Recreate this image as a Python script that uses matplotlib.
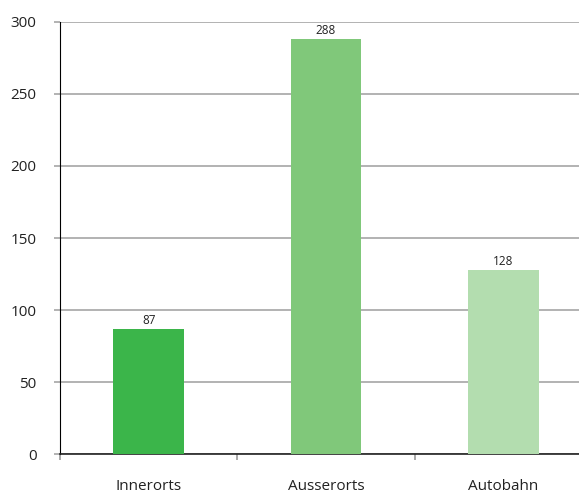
import numpy as np
import matplotlib.pyplot as plt

kategorien = ["Innerorts", "Ausserorts", "Autobahn"]
werte = [87, 288, 128]
farben = ["#3BB54A", "#80C87A", "#B3DDAF"]
y_ticks = [0, 50, 100, 150, 200, 250, 300]

plt.rcParams['font.family'] = ['Open Sans', 'DejaVu Sans']

fig = plt.figure(figsize=(5.79, 4.96), dpi=100)
ax = fig.add_axes([60/579, 42/496, 519/579, 432/496])

x = np.arange(len(kategorien))
bars = ax.bar(x, werte, width=0.4, color=farben, zorder=3)
for xi, v in zip(x, werte):
    ax.text(xi, v + 1.5, str(v), ha='center', va='bottom', fontsize=8.5, color='#222222')

ax.set_xlim(-0.5, 2.427)
ax.set_ylim(0, 300)
ax.set_yticks(y_ticks)
ax.yaxis.grid(True, color='#a6a6a6', linewidth=1.2, zorder=0)
ax.tick_params(axis='y', length=4, color='#a6a6a6', width=1.2, pad=13, labelsize=11, labelcolor='#222222')

ax.set_xticks(x)
ax.set_xticklabels(kategorien)
ax.set_xticks([-0.5, 0.5, 1.5], minor=True)
ax.tick_params(axis='x', which='major', length=0, pad=18, labelsize=11, labelcolor='#222222')
ax.tick_params(axis='x', which='minor', length=4, color='#999999', width=1.2)

for s in ['top', 'right']:
    ax.spines[s].set_visible(False)
ax.spines['left'].set_color('black')
ax.spines['bottom'].set_color('#222222')
ax.spines['bottom'].set_linewidth(1.2)

fig.savefig('out.png', dpi=100)
